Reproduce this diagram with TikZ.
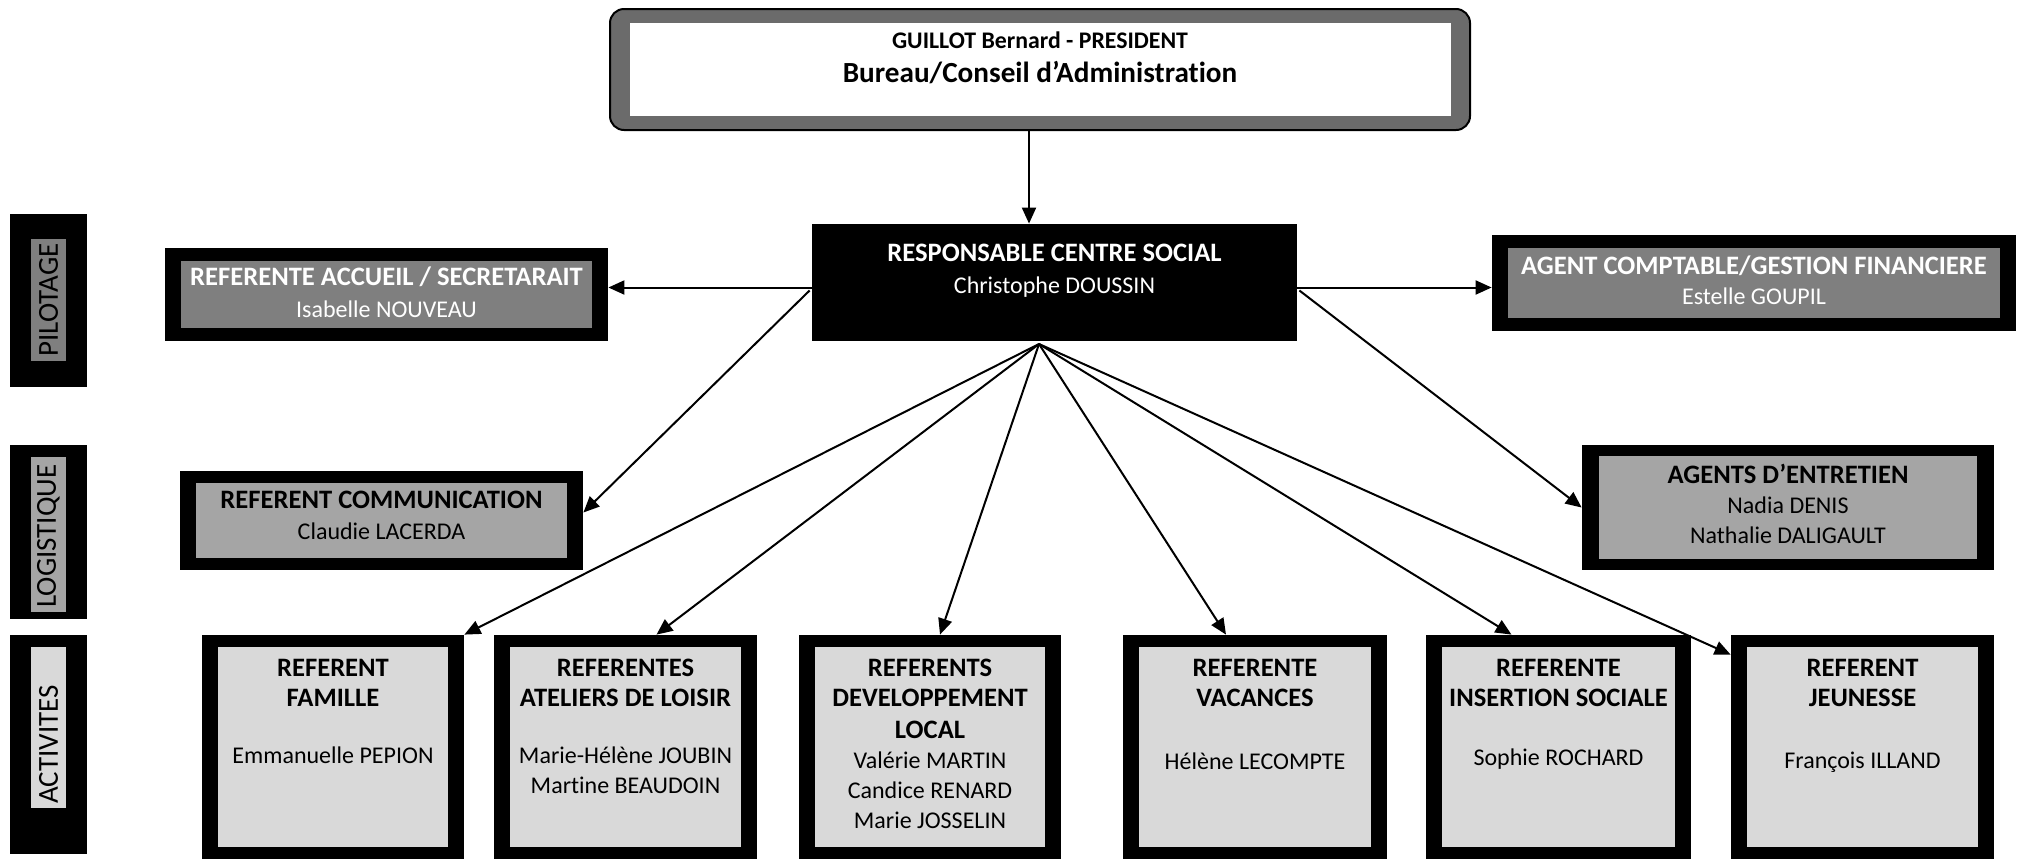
\documentclass[tikz,border=0pt]{standalone}
\usepackage{fontspec}
\setmainfont{Carlito}[RawFeature=-liga]
\usetikzlibrary{arrows.meta,fit,calc}
\definecolor{gA}{HTML}{7F7F7F}
\definecolor{gB}{HTML}{A5A5A5}
\definecolor{gC}{HTML}{D9D9D9}
\definecolor{gTop}{HTML}{6B6B6B}
\newcommand{\obox}[8]{%
  \node[fit={(#2,#3)(#4,#5)}, inner sep=0pt, fill=black] (#1) {};
  \node[fit={({#2+#6},{#3+#7})({#4-#6},{#5-#7})}, inner sep=0pt, fill=#8] (#1-in) {};}
\newcommand{\tb}[1]{{\fontsize{13.3}{15}\selectfont\bfseries #1}}
\tikzset{
  arr/.style={line width=1pt, -{Triangle[length=8pt,width=7pt]}},
  txt/.style={inner sep=0pt, align=center, anchor=north, font=\fontsize{12}{15}\selectfont},
  side/.style={inner sep=0pt, rotate=90, anchor=west, font=\fontsize{14.5}{16}\selectfont},
}
\begin{document}
\begin{tikzpicture}[x=0.5pt,y=-0.5pt]
\useasboundingbox (0,0) rectangle (2017,863);
% top box
\node[fit={(610,9)(1470,130)}, inner sep=0pt, fill=gTop, draw=black, line width=1pt, rounded corners=7pt] (top) {};
\node[fit={(630,23)(1451,116)}, inner sep=0pt, fill=white] (top-in) {};
\node[txt] (top-t) at (1040,31.5) {{\fontsize{11.9}{15}\selectfont\bfseries GUILLOT Bernard - PRESIDENT}\\[2pt]{\fontsize{14.6}{15}\selectfont\bfseries Bureau/Conseil d’Administration}};
% responsable
\node[fit={(812,224)(1297,341)}, inner sep=0pt, fill=black] (resp) {};
\node[txt, text=white] (resp-t) at (resp.north |- 0,243.5) {\tb{RESPONSABLE CENTRE SOCIAL}\\[1pt]Christophe DOUSSIN};
% side labels
\obox{pil}{10}{214}{87}{387}{0}{0}{black}
\node[fit={(31,239)(66,361)}, inner sep=0pt, fill=gA] (pil-g) {};
\node[side] (pil-t) at (48.5,357) {PILOTAGE};
\obox{log}{10}{445}{87}{619}{0}{0}{black}
\node[fit={(31,457)(66,612)}, inner sep=0pt, fill=gB] (log-g) {};
\node[side] (log-t) at (48.5,608) {LOGISTIQUE};
\obox{act}{10}{635}{87}{854}{0}{0}{black}
\node[fit={(31,647)(66,808)}, inner sep=0pt, fill=gC] (act-g) {};
\node[side] (act-t) at (48.5,804) {ACTIVITES};
% middle boxes
\obox{acc}{165}{248}{608}{341}{16}{13}{gA}
\node[txt, text=white] (acc-t) at (acc.north |- 0,266.5) {\tb{REFERENTE ACCUEIL / SECRETARAIT}\\[1pt]Isabelle NOUVEAU};
\obox{cpt}{1492}{235}{2016}{331}{16}{13}{gA}
\node[txt, text=white] (cpt-t) at (cpt.north |- 0,255.5) {\tb{AGENT COMPTABLE/GESTION FINANCIERE}\\Estelle GOUPIL};
\obox{comm}{180}{471}{583}{570}{16}{12}{gB}
\node[txt] (comm-t) at (comm.north |- 0,490.5) {\tb{REFERENT COMMUNICATION}\\[0.5pt]Claudie LACERDA};
\obox{ent}{1582}{445}{1994}{570}{17}{11}{gB}
\node[txt] (ent-t) at (ent.north |- 0,463.5) {\tb{AGENTS D’ENTRETIEN}\\Nadia DENIS\\Nathalie DALIGAULT};
% activity boxes
\obox{fam}{202}{635}{464}{859}{16}{12}{gC}
\node[txt] (fam-t) at (fam.north |- 0,658.5) {\tb{REFERENT}\\\tb{FAMILLE}\\[13.5pt]Emmanuelle PEPION};
\obox{atl}{494}{635}{757}{859}{16}{12}{gC}
\node[txt] (atl-t) at (atl.north |- 0,658.5) {\tb{REFERENTES}\\\tb{ATELIERS DE LOISIR}\\[13.5pt]Marie-Hélène JOUBIN\\Martine BEAUDOIN};
\obox{dev}{799}{635}{1061}{859}{16}{12}{gC}
\node[txt] (dev-t) at (dev.north |- 0,658.5) {\tb{REFERENTS}\\\tb{DEVELOPPEMENT}\\[1pt]\tb{LOCAL}\\Valérie MARTIN\\Candice RENARD\\Marie JOSSELIN};
\obox{vac}{1123}{635}{1387}{859}{16}{12}{gC}
\node[txt] (vac-t) at (vac.north |- 0,658.5) {\tb{REFERENTE}\\\tb{VACANCES}\\[16.5pt]Hélène LECOMPTE};
\obox{ins}{1426}{635}{1691}{859}{16}{12}{gC}
\node[txt] (ins-t) at (ins.north |- 0,658.5) {\tb{REFERENTE}\\\tb{INSERTION SOCIALE}\\[14.5pt]Sophie ROCHARD};
\obox{jeu}{1731}{635}{1994}{859}{16}{12}{gC}
\node[txt] (jeu-t) at (jeu.north |- 0,658.5) {\tb{REFERENT}\\\tb{JEUNESSE}\\[16pt]François ILLAND};
% connectors
\coordinate (tA) at ($(top.south)+(-11,0)$);
\draw[arr] (tA) -- (tA |- resp.north);
\coordinate (rL) at ($(resp.west)+(0,5)$);
\coordinate (rR) at ($(resp.east)+(0,5)$);
\draw[arr] (rL) -- (rL -| acc.east);
\draw[arr] (rR) -- (rR -| cpt.west);
\coordinate (rL2) at ($(resp.west)+(-2,8)$);
\coordinate (rR2) at ($(resp.east)+(2,8)$);
\draw[arr] (rL2) -- ($(comm.east)+(0,-8)$);
\draw[arr] (rR2) -- (ent.west);
\coordinate (fan) at (1039,344);
\draw[arr] (fan) -- (fam.north east);
\draw[arr] (fan) -- ($(atl.north)+(31,0)$);
\draw[arr] (fan) -- ($(dev.north)+(10,0)$);
\draw[arr] (fan) -- ($(vac.north)+(-29,0)$);
\draw[arr] (fan) -- ($(ins.north)+(-47,0)$);
\draw[arr] (fan) -- ($(jeu.north west)+(0,20)$);
\end{tikzpicture}
\end{document}
